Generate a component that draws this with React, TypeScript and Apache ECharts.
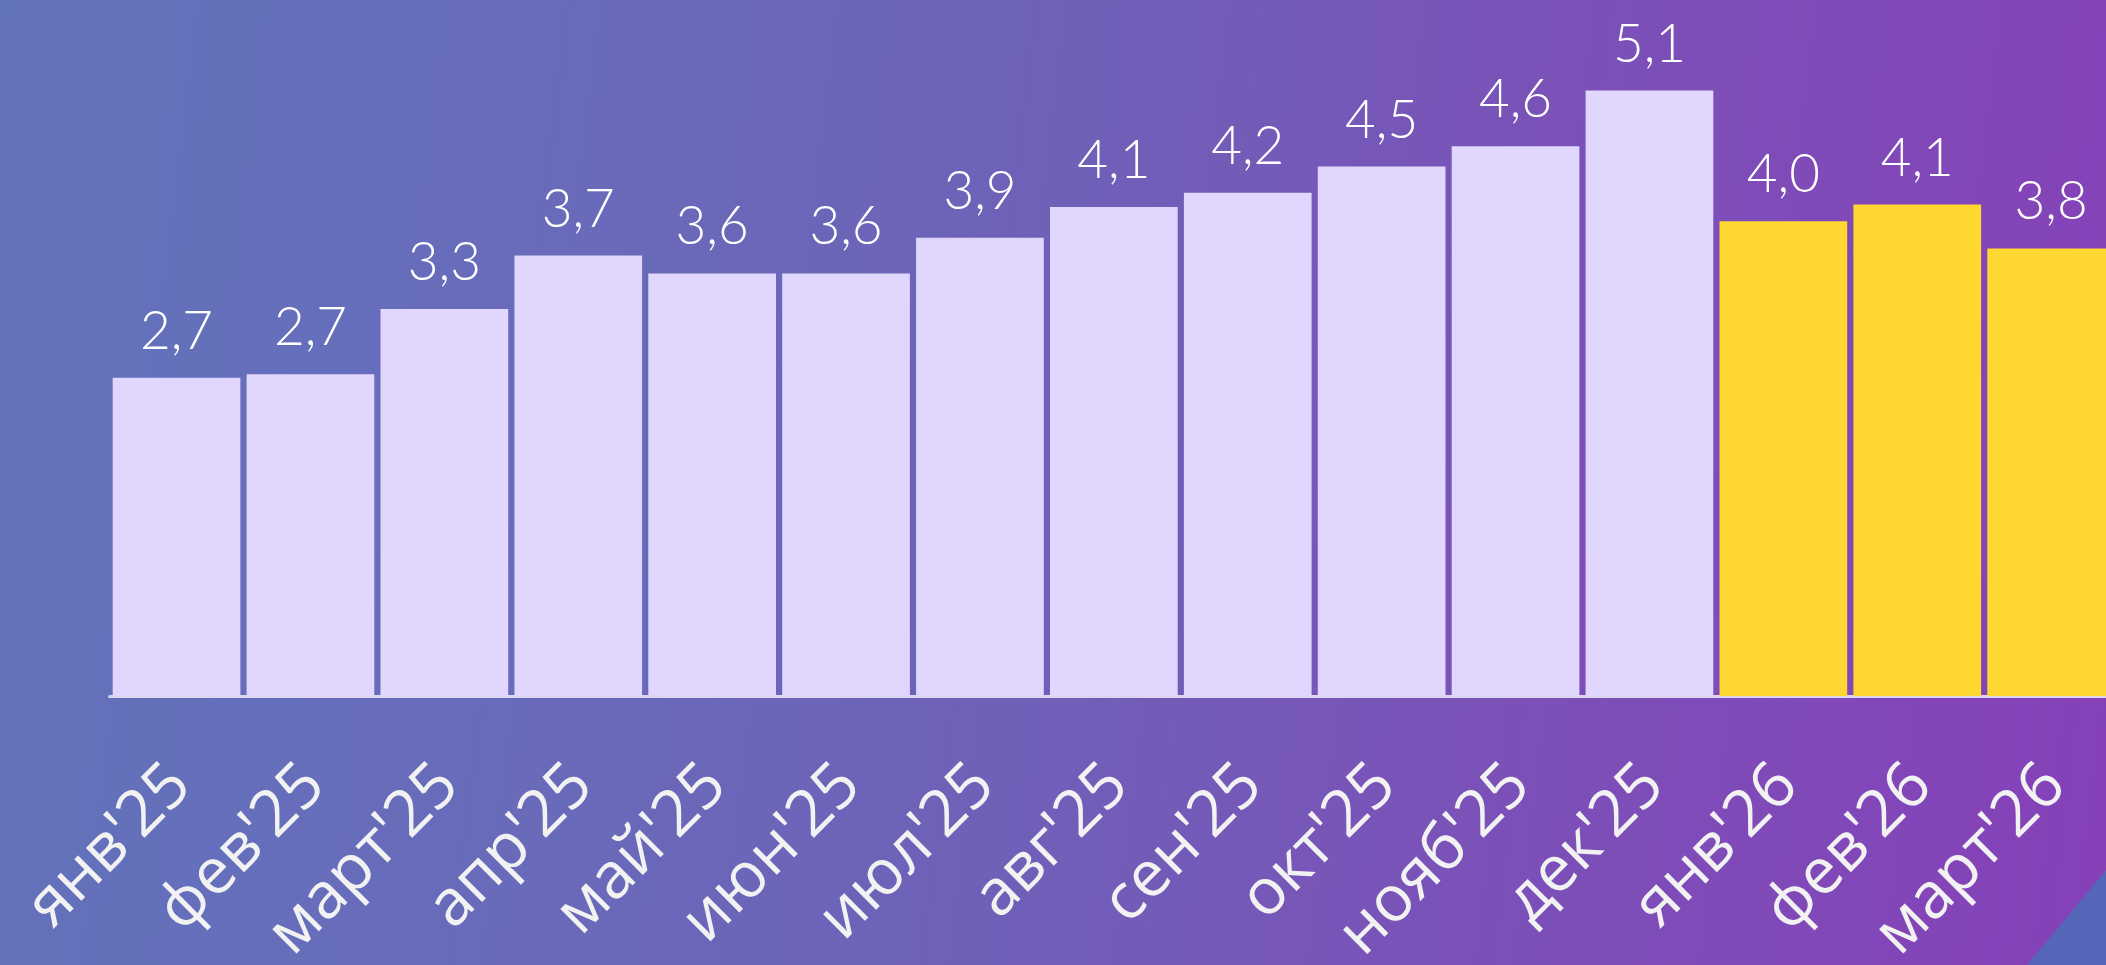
import React, { useEffect, useRef } from 'react';
import * as echarts from 'echarts';

const categories = [
  "янв'25", "фев'25", "март'25", "апр'25", "май'25", "июн'25", "июл'25", "авг'25",
  "сен'25", "окт'25", "нояб'25", "дек'25", "янв'26", "фев'26", "март'26",
];
const values = [2.68, 2.71, 3.26, 3.71, 3.56, 3.56, 3.86, 4.12, 4.24, 4.46, 4.63, 5.1, 4.0, 4.14, 3.77];
const FORECAST_START = 12;

export default function App() {
  const ref = useRef<HTMLDivElement>(null);
  useEffect(() => {
    const chart = echarts.init(ref.current as HTMLDivElement, null, { renderer: 'svg' });
    chart.setOption({
      animation: false,
      grid: {
        left: 109.6,
        width: 2008.5,
        top: 0,
        bottom: 269,
        containLabel: false,
        outerBoundsMode: 'none',
      },
      xAxis: {
        type: 'category',
        data: categories,
        axisLine: { show: true, lineStyle: { color: '#DCD6F2', width: 3 } },
        axisTick: { show: false },
        axisLabel: {
          interval: 0,
          rotate: 45,
          margin: 75,
          color: '#F2F2F2',
          fontSize: 64,
          fontFamily: '"Open Sans", "Noto Sans", sans-serif',
        },
      },
      yAxis: { type: 'value', min: 0, max: 5.863, show: false, splitLine: { show: false } },
      series: [
        {
          type: 'bar',
          barWidth: 127.7,
          data: values.map((v, i) => ({
            value: v,
            itemStyle: { color: i >= FORECAST_START ? '#FFD731' : '#E0D6FE' },
          })),
          label: {
            show: true,
            position: 'top',
            distance: 23,
            color: '#FFFFFF',
            fontSize: 53,
            fontFamily: 'Lato, "Open Sans", sans-serif',
            fontWeight: 300,
            formatter: (p: any) => Number(p.value).toFixed(1).replace('.', ','),
          },
        },
      ],
      graphic: [
        {
          type: 'polygon',
          shape: { points: [[2027, 965], [2106, 870], [2106, 965]] },
          style: { fill: '#5566B8' },
          z: 10,
        },
      ],
    });
    return () => chart.dispose();
  }, []);
  return (
    <div
      ref={ref}
      style={{
        position: 'fixed',
        left: 0,
        top: 0,
        width: 2106,
        height: 965,
        background:
          'linear-gradient(97deg, #6272BA 0%, #666EBB 18%, #6D63B8 45%, #7A52B8 70%, #8640B8 100%)',
      }}
    />
  );
}
